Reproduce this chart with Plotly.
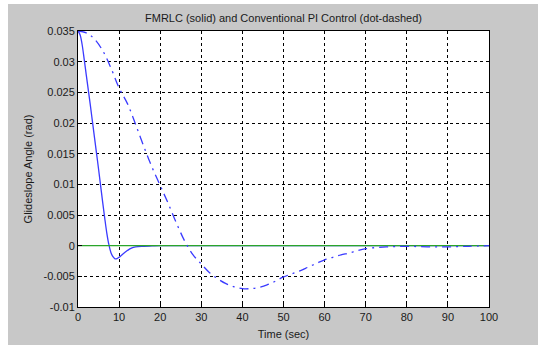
import plotly.graph_objects as go

# FMRLC (solid)
t_fmrlc = [0, 0.5, 1, 1.5, 2, 2.5, 3, 3.5, 4, 4.5, 5, 5.5, 6, 6.5, 7, 7.5, 8, 8.5, 9, 9.5, 10, 11, 12, 13, 14, 16, 18, 20, 30, 40, 50, 60, 70, 80, 90, 100]
y_fmrlc = [0.035, 0.0344, 0.0328, 0.0304, 0.0279, 0.0254, 0.0229, 0.0203, 0.0177, 0.0151, 0.0125, 0.0098, 0.0071, 0.0045, 0.0021, 0.0002, -0.0011, -0.0018, -0.00215, -0.0021, -0.0019, -0.0013, -0.0008, -0.0004, -0.0002, -0.0001, -0.00005, 0.0, 0.0, 0.0, 0.0, 0.0, 0.0, 0.0, 0.0, 0.0]

# Conventional PI (dot-dashed)
t_pi = [0, 2, 4, 6, 8, 10, 12, 14, 16, 18, 20, 22, 24, 26, 28, 30, 32, 34, 36, 38, 40, 42, 44, 46, 48, 50, 52, 54, 56, 58, 60, 62, 64, 66, 68, 70, 75, 80, 85, 90, 95, 100]
y_pi = [0.035, 0.0347, 0.0337, 0.0318, 0.0290, 0.0257, 0.0232, 0.0198, 0.0162, 0.0128, 0.0098, 0.0068, 0.0036, 0.0007, -0.0015, -0.0030, -0.0044, -0.0054, -0.0062, -0.0067, -0.0070, -0.0070, -0.0068, -0.0064, -0.0058, -0.0051, -0.0046, -0.0041, -0.0035, -0.0029, -0.0023, -0.0019, -0.0015, -0.0012, -0.0008, -0.0005, -0.0002, -0.0001, -0.0002, -0.0002, -0.0001, 0.0]

# Reference (zero)
t_ref = [0, 100]
y_ref = [0, 0]

x_ticks = [0, 10, 20, 30, 40, 50, 60, 70, 80, 90, 100]
y_ticks = [0.035, 0.03, 0.025, 0.02, 0.015, 0.01, 0.005, 0, -0.005, -0.01]
y_ticktext = ["0.035", "0.03", "0.025", "0.02", "0.015", "0.01", "0.005", "0", "-0.005", "-0.01"]

W, H = 542, 345
ML, MR, MT, MB = 78, 53, 31, 38
pw = W - ML - MR
ph = H - MT - MB

FONT = "Liberation Sans, Arial, sans-serif"

fig = go.Figure()
fig.add_trace(go.Scatter(x=t_fmrlc, y=y_fmrlc, mode="lines", line_shape="spline",
                         line=dict(color="#3a3aff", width=1.3), showlegend=False))
fig.add_trace(go.Scatter(x=t_ref, y=y_ref, mode="lines",
                         line=dict(color="#2aa52a", width=1.2), showlegend=False))
fig.add_trace(go.Scatter(x=t_pi, y=y_pi, mode="lines", line_shape="spline",
                         line=dict(color="#3a3aff", width=1.3, dash="9px,5px,2px,5px"),
                         showlegend=False))

def px_x(p):
    return (p - ML) / pw

def px_y(p):
    return 1 - (p - MT) / ph

shapes = [
    dict(type="rect", xref="paper", yref="paper", x0=px_x(0), x1=px_x(8), y0=px_y(H), y1=px_y(0),
         fillcolor="white", line=dict(width=0), layer="above"),
    dict(type="rect", xref="paper", yref="paper", x0=px_x(0), x1=px_x(W), y0=px_y(4), y1=px_y(0),
         fillcolor="white", line=dict(width=0), layer="above"),
    dict(type="rect", xref="paper", yref="paper", x0=px_x(538), x1=px_x(W), y0=px_y(H), y1=px_y(0),
         fillcolor="white", line=dict(width=0), layer="above"),
]

fig.update_layout(
    width=W, height=H,
    margin=dict(l=ML, r=MR, t=MT, b=MB),
    paper_bgcolor="#c8c8c8",
    plot_bgcolor="white",
    font=dict(family=FONT, size=11, color="#1a1a1a"),
    title=dict(text="FMRLC (solid) and Conventional PI Control (dot-dashed)",
               x=(ML + pw / 2) / W, xanchor="center", y=1 - 18 / H, yanchor="middle",
               font=dict(size=11, family=FONT, color="#1a1a1a")),
    shapes=shapes,
    xaxis=dict(range=[0, 100], tickvals=x_ticks, ticktext=[str(v) for v in x_ticks],
               showgrid=True, gridcolor="black", griddash="3px,3px", gridwidth=1,
               showline=True, linecolor="black", linewidth=1, mirror=True,
               ticks="inside", ticklen=4, tickcolor="black", automargin=False,
               zeroline=False, tickfont=dict(size=11),
               title=dict(text="Time (sec)", font=dict(size=11), standoff=8)),
    yaxis=dict(range=[-0.01, 0.035], tickvals=y_ticks, ticktext=y_ticktext,
               showgrid=True, gridcolor="black", griddash="3px,3px", gridwidth=1,
               showline=True, linecolor="black", linewidth=1, mirror=True,
               ticks="inside", ticklen=4, tickcolor="black", automargin=False,
               zeroline=False, tickfont=dict(size=11),
               title=dict(text="Glideslope Angle (rad)", font=dict(size=11), standoff=8)),
)

fig.write_html("out.html")
